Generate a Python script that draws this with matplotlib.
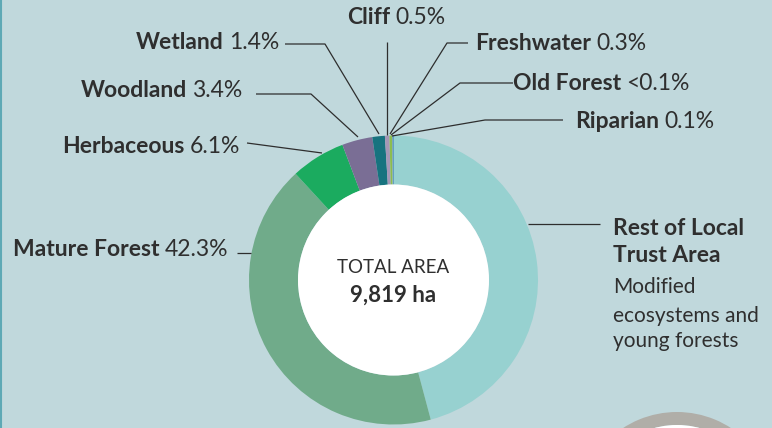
import matplotlib
matplotlib.use("Agg")
import matplotlib.pyplot as plt
from matplotlib.patches import Circle, Wedge

# ---- data ----
categories = ["Rest of Local Trust Area", "Mature Forest", "Herbaceous", "Woodland",
              "Wetland", "Cliff", "Freshwater", "Old Forest", "Riparian"]
known_pct = [42.3, 6.1, 3.4, 1.4, 0.5, 0.3, 0.05, 0.1]
values = [100 - sum(known_pct)] + known_pct
pct_labels = ["", "42.3%", "6.1%", "3.4%", "1.4%", "0.5%", "0.3%", "<0.1%", "0.1%"]
colors = ["#97d1d0", "#70ab8a", "#1bab5f", "#7a6e95", "#17737f", "#a497b6",
          "#8cbd4f", "#b9c0c2", "#1c70b2"]
total_label = "TOTAL AREA"
total_value = "9,819 ha"

W, H = 772, 428
BG = "#c0d8dc"
TXT = "#2f2f2f"
FONT = "Lato"

fig = plt.figure(figsize=(W / 100, H / 100), dpi=100)
fig.patch.set_facecolor(BG)
ax = fig.add_axes([0, 0, 1, 1])
ax.set_facecolor(BG)

def Y(y):
    return H - y

cx, cy, R, r_in = 393.5, 280, 144.5, 95.5
ax.pie(values, colors=colors, startangle=90, counterclock=False,
       center=(cx, Y(cy)), radius=R,
       wedgeprops=dict(width=R - r_in, linewidth=0))
ax.add_patch(Circle((cx, Y(cy)), r_in, facecolor="white", edgecolor="none", zorder=3))

# decorative elements
ax.plot([0.8, 0.8], [0, H], color="#5ea9b5", lw=1.5, zorder=1)
ax.add_patch(Wedge((677, Y(511)), 99, 0, 360, width=13, facecolor="#b0aea8",
                   edgecolor="none", zorder=1))
ax.add_patch(Circle((677, Y(511)), 86, facecolor="white", edgecolor="none", zorder=1))

ax.set_xlim(0, W)
ax.set_ylim(0, H)
ax.set_aspect("equal")
ax.axis("off")

# leader lines
lines = [
    [(285, 44), (325, 44), (379, 134)],        # Wetland
    [(256, 94), (311, 94), (358, 137)],        # Woodland
    [(247, 143), (322, 153)],                  # Herbaceous
    [(237, 253), (251, 253)],                  # Mature Forest
    [(528, 224), (600, 224)],                  # Rest
    [(386.5, 42), (386.5, 135)],               # Cliff
    [(468, 43), (447, 43), (390, 134)],        # Freshwater
    [(513, 83), (460, 83), (391, 135)],        # Old Forest
    [(563, 120), (485, 120), (392, 136)],      # Riparian
]
for pts in lines:
    xs = [p[0] for p in pts]
    ys = [Y(p[1]) for p in pts]
    ax.plot(xs, ys, color="#2e2e2e", lw=0.9, zorder=2, solid_capstyle="butt")

fig.canvas.draw()
renderer = fig.canvas.get_renderer()
FS = 16.5
SP = 5

def width_px(t):
    bb = t.get_window_extent(renderer=renderer)
    return bb.width

def label_left(x, base, name, pct):
    t = ax.text(x, Y(base), name, fontsize=FS, fontweight="bold", color=TXT,
                family=FONT, ha="left", va="baseline", zorder=5)
    w = width_px(t)
    ax.text(x + w + SP, Y(base), pct, fontsize=FS, color=TXT, family=FONT,
            ha="left", va="baseline", zorder=5)

def label_right(x, base, name, pct):
    t = ax.text(x, Y(base), pct, fontsize=FS, color=TXT, family=FONT,
                ha="right", va="baseline", zorder=5)
    w = width_px(t)
    ax.text(x - w - SP, Y(base), name, fontsize=FS, fontweight="bold", color=TXT,
            family=FONT, ha="right", va="baseline", zorder=5)

label_right(228, 256, categories[1], pct_labels[1])
label_right(240, 153, categories[2], pct_labels[2])
label_right(242, 97, categories[3], pct_labels[3])
label_right(279, 49, categories[4], pct_labels[4])
label_left(347, 24, categories[5], pct_labels[5])
label_left(475, 50, categories[6], pct_labels[6])
label_left(513, 90, categories[7], pct_labels[7])
label_left(575, 128, categories[8], pct_labels[8])

ax.text(613, Y(235), "Rest of Local", fontsize=FS, fontweight="bold", color=TXT,
        family=FONT, ha="left", va="baseline")
ax.text(613, Y(262), "Trust Area", fontsize=FS, fontweight="bold", color=TXT,
        family=FONT, ha="left", va="baseline")
for txt, b in [("Modified", 293), ("ecosystems and", 322), ("young forests", 347)]:
    ax.text(613, Y(b), txt, fontsize=15, color=TXT, family=FONT,
            ha="left", va="baseline")

ax.text(cx, Y(273), "T O T A L   A R E A".replace(" ", "\u200a") if False else total_label,
        fontsize=13.5, color=TXT, family=FONT, ha="center", va="baseline", zorder=5)
ax.text(cx, Y(302), total_value, fontsize=16, fontweight="bold", color=TXT,
        family=FONT, ha="center", va="baseline", zorder=5)

fig.savefig("out.png", dpi=100, facecolor=BG)
